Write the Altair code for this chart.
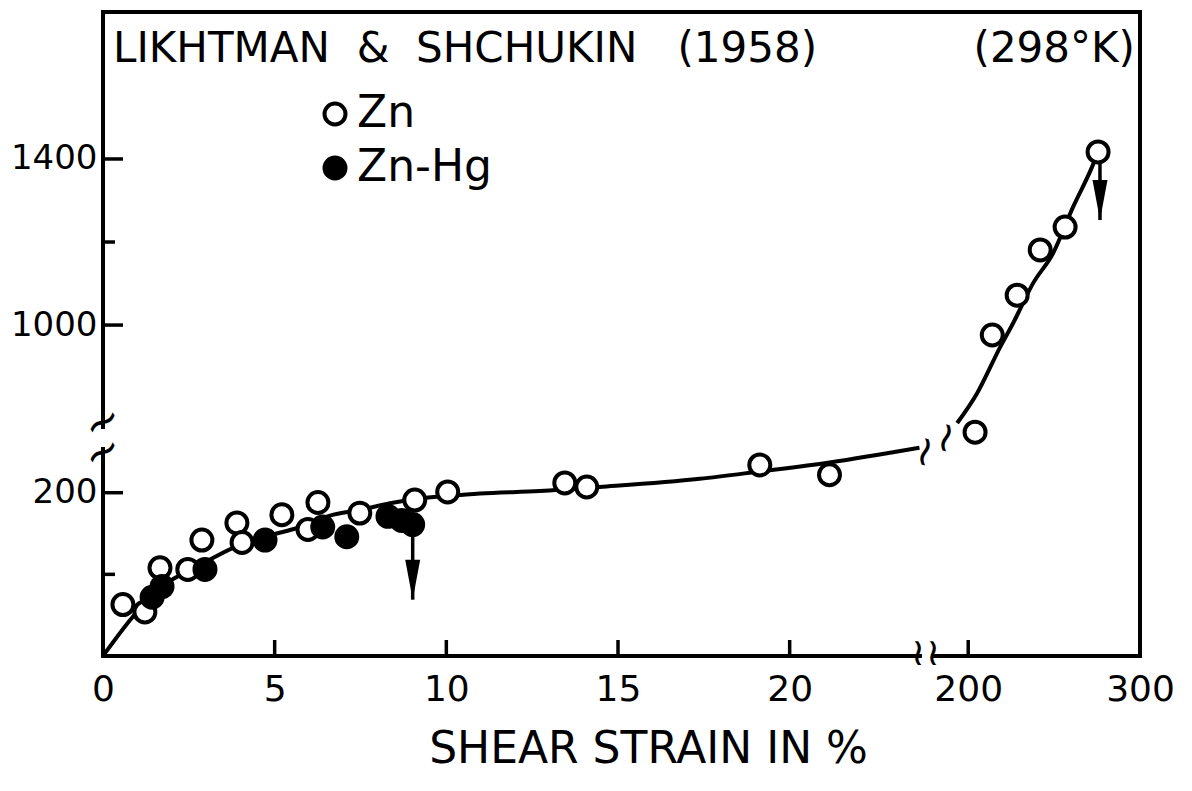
import altair as alt
import pandas as pd

# ---------------- data ----------------
# Zn (open circles): shear strain in %, stress value
zn_strain = [0.58, 1.22, 1.66, 2.47, 2.88, 3.90, 4.05, 5.21, 5.97, 6.26, 7.48, 9.08, 10.04,
             13.45, 14.09, 19.13, 21.16, 204, 214, 228.5, 241.9, 256.4, 275.6]
zn_stress = [63, 54, 108, 106, 142, 163, 139, 173, 155, 188, 175, 191, 201,
             212, 207, 234, 222, 742, 976, 1072, 1181, 1236, 1417]
# Zn-Hg (filled circles)
znhg_strain = [1.43, 1.72, 2.97, 4.72, 6.40, 7.10, 8.30, 8.70, 9.02]
znhg_stress = [72, 85, 106, 142, 158, 146, 171, 166, 161]

# drawn curve, lower-strain part and high-strain part
curve_lo_strain = [0, 0.79, 1.51, 2.24, 2.97, 3.99, 4.72, 5.74, 6.61, 7.48, 8.36, 9.23,
                   10.04, 10.98, 12.72, 14.47, 17.38, 19.13, 21.16, 23.78]
curve_lo_stress = [0, 44, 79, 99, 115, 136, 146, 158, 172, 179, 187, 193,
                   196, 199, 202, 207, 217, 226, 237, 255]
curve_hi_strain = [193.6, 205.2, 218.6, 226.2, 237.8, 249.4, 261, 272.1, 275.6]
curve_hi_stress = [764, 836, 947, 1005, 1101, 1173, 1284, 1381, 1417]

# downward arrows (fracture)
arrow_strain = [9.02, 276.7]
arrow_from = [155, 1390]
arrow_to = [69, 1253]

# axis ticks
x_tick_values = [0, 5, 10, 15, 20, 200, 300]
x_inner_ticks = [5, 10, 15, 20, 200]
y_major_ticks = [200, 1000, 1400]
y_minor_ticks = [100, 1200]

series_names = ["Zn", "Zn-Hg"]

# ---------------- chart ----------------
FONT = "DejaVu Sans"
W, H = 1037, 644

x_scale = alt.Scale(domain=[0, 24, 183, 300], range=[0, 824, 836, W], nice=False, zero=False)
y_scale = alt.Scale(domain=[0, 267, 728, 1754], range=[H, 426, 426, 0], nice=False, zero=False)

x_axis = alt.Axis(values=x_tick_values, ticks=False, domain=False, grid=False, format="d",
                  labelFlush=False, labelFont=FONT, labelFontSize=36, labelColor="black",
                  labelPadding=16,
                  title="SHEAR STRAIN IN %", titleFont=FONT, titleFontSize=44,
                  titleFontWeight="normal", titleColor="black", titleX=545, titleY=106,
                  titleBaseline="alphabetic", titleAlign="center")
y_axis = alt.Axis(values=y_major_ticks + y_minor_ticks, ticks=False, domain=False, grid=False,
                  format="d", labelFlush=False,
                  labelFont=FONT, labelFontSize=34, labelColor="black", labelPadding=6,
                  labelExpr="datum.value == 100 || datum.value == 1200 ? '' : datum.label",
                  title=None)

X = lambda f: alt.X(f, type="quantitative", scale=x_scale, axis=x_axis)
Y = lambda f: alt.Y(f, type="quantitative", scale=y_scale, axis=y_axis)

pts = pd.DataFrame({
    "strain": zn_strain + znhg_strain,
    "stress": zn_stress + znhg_stress,
    "series": [series_names[0]] * len(zn_strain) + [series_names[1]] * len(znhg_strain),
})
lo = pd.DataFrame({"strain": curve_lo_strain, "stress": curve_lo_stress})
hi = pd.DataFrame({"strain": curve_hi_strain, "stress": curve_hi_stress})
arr = pd.DataFrame({"strain": arrow_strain, "stress": arrow_from, "stress2": arrow_to})
xt = pd.DataFrame({"strain": x_inner_ticks})
ytM = pd.DataFrame({"stress": y_major_ticks})
ytm = pd.DataFrame({"stress": y_minor_ticks})

curve_lo = alt.Chart(lo).mark_line(color="black", strokeWidth=4, interpolate="monotone").encode(
    x=X("strain"), y=Y("stress"))
curve_hi = alt.Chart(hi).mark_line(color="black", strokeWidth=4, interpolate="monotone").encode(
    x=X("strain"), y=Y("stress"))

xticks = alt.Chart(xt).mark_rule(color="black", strokeWidth=3.5).encode(
    x=X("strain"), y=alt.value(H), y2=alt.value(H - 16))
yticksM = alt.Chart(ytM).mark_rule(color="black", strokeWidth=3.5).encode(
    y=Y("stress"), x=alt.value(0), x2=alt.value(20))
yticksm = alt.Chart(ytm).mark_rule(color="black", strokeWidth=3.5).encode(
    y=Y("stress"), x=alt.value(0), x2=alt.value(12))

shafts = alt.Chart(arr).mark_rule(color="black", strokeWidth=3.5).encode(
    x=X("strain"), y=Y("stress"), y2=alt.Y2("stress2"))
heads = alt.Chart(arr).mark_point(shape="M-0.375,-2L0.375,-2L0,0Z", filled=True, size=1600,
                                  color="black", opacity=1).encode(
    x=X("strain"), y=Y("stress2"))

points = alt.Chart(pts).mark_point(shape="circle", filled=True, size=440, stroke="black",
                                   strokeWidth=4, opacity=1).encode(
    x=X("strain"), y=Y("stress"),
    fill=alt.Fill("series:N", scale=alt.Scale(domain=series_names, range=["white", "black"]),
                  legend=alt.Legend(orient="none", legendX=210, legendY=80, title=None,
                                    labelFont=FONT, labelFontSize=44, labelColor="black",
                                    labelOffset=0, symbolType="circle", symbolSize=440,
                                    symbolStrokeWidth=4, symbolStrokeColor="black",
                                    rowPadding=10, padding=0)),
)

def label(text, x, y, size, align="left", angle=0, baseline="alphabetic"):
    return alt.Chart(pd.DataFrame({"t": [text]})).mark_text(
        font=FONT, fontSize=size, align=align, baseline=baseline, color="black", angle=angle
    ).encode(text="t:N", x=alt.value(x), y=alt.value(y))

NB = "\u00a0"
title_l = label(f"LIKHTMAN{NB*2}&{NB*2}SHCHUKIN{NB*3}(1958)", 10, 50, 42)
title_r = label("(298°K)", 1032, 50, 42, align="right")

# axis-break marks
gap_x = alt.Chart(pd.DataFrame({"a": [0]})).mark_rule(color="white", strokeWidth=8).encode(
    x=alt.value(819), x2=alt.value(828), y=alt.value(H))
gap_y = alt.Chart(pd.DataFrame({"a": [0]})).mark_rule(color="white", strokeWidth=8).encode(
    y=alt.value(417), y2=alt.value(435), x=alt.value(0))
brk = [
    label("≀", 815, 642, 38, align="center", baseline="middle"),
    label("≀", 830, 642, 38, align="center", baseline="middle"),
    label("≀", 822, 440, 42, align="center", baseline="middle", angle=15),
    label("≀", 843, 426, 42, align="center", baseline="middle", angle=15),
    label("~", 0, 411, 44, align="center", baseline="middle", angle=330),
    label("~", 0, 441, 44, align="center", baseline="middle", angle=330),
]

chart = alt.layer(
    curve_lo, curve_hi, xticks, yticksM, yticksm, shafts, points, heads,
    title_l, title_r, gap_x, gap_y, *brk
).properties(
    width=W, height=H,
    autosize=alt.AutoSizeParams(type="none"),
    padding={"left": 95, "top": 4, "right": 40, "bottom": 120},
).configure(font=FONT).configure_view(stroke="black", strokeWidth=4)

chart.save("out.html", embed_options={"renderer": "svg", "actions": False})
